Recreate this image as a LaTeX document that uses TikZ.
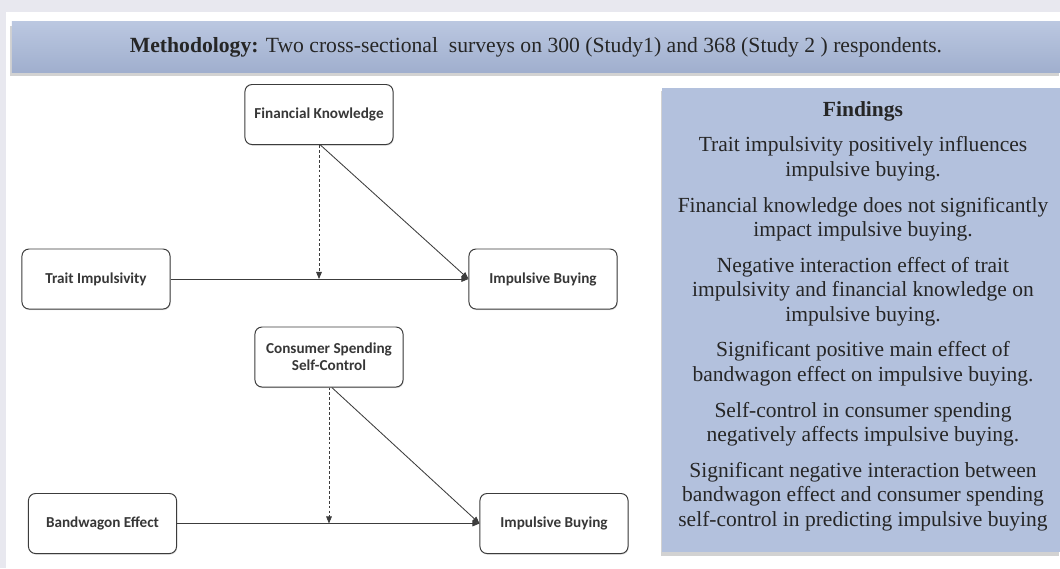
\documentclass[tikz,border=0pt]{standalone}
\usepackage{fontspec}
\setmainfont{Liberation Serif}
\newfontfamily\boxfont{Carlito}
\usepackage{tikz}
\usetikzlibrary{arrows.meta,shadows}
\definecolor{PageGray}{RGB}{232,232,239}
\definecolor{PanelBlue}{RGB}{179,193,221}
\definecolor{PanelBlueDark}{RGB}{160,175,206}
\definecolor{LineGray}{RGB}{60,60,60}
\definecolor{TextGray}{RGB}{55,55,55}
\tikzset{
  varbox/.style={draw=LineGray, line width=0.7pt, rounded corners=5pt, fill=white,
    minimum width=3.7cm, minimum height=1.5cm, align=center, text=TextGray,
    font=\boxfont\bfseries\fontsize{10.8}{12}\selectfont,
    drop shadow={shadow xshift=0.5pt, shadow yshift=-0.8pt, opacity=0.25}},
  panel/.style={fill=PanelBlue, draw=none,
    drop shadow={shadow xshift=-1pt, shadow yshift=-2.5pt, opacity=0.35}},
  banner/.style={panel, top color=PanelBlue!90!white, bottom color=PanelBlueDark},
  effect/.style={draw=LineGray, line width=0.6pt, -{Triangle[length=5pt,width=4pt]}},
  moderate/.style={effect, dash pattern=on 2pt off 1.5pt}
}
\begin{document}
\begin{tikzpicture}[x=0.025cm, y=-0.025cm]
  \useasboundingbox (0,0) rectangle (1060,568);
  \fill[PageGray] (0,0) rectangle (1060,568);
  \fill[white] (6,12) rectangle (1060,568);

  \node[banner, minimum width=26.2cm, minimum height=1.25cm,
    font=\fontsize{15.4}{18}\selectfont, text=black!85] (method) at (536,47)
    {\textbf{Methodology:} Two cross-sectional\ \ surveys on 300 (Study1) and 368 (Study 2 ) respondents.};

  \node[panel, minimum width=9.95cm, minimum height=11.6cm] (findbox) at (861,320) {};
  \node[align=center, text=black!85, font=\fontsize{15.3}{17.4}\selectfont] (findings) at (863,316)
    {\textbf{Findings}\\[8pt]
     Trait impulsivity\ positively\ influences\\ impulsive buying.\\[8pt]
     Financial knowledge does not significantly\\ impact impulsive buying.\\[8pt]
     Negative interaction effect of trait\\ impulsivity and financial knowledge on\\ impulsive buying.\\[8pt]
     Significant positive main effect of\\ bandwagon\ effect on impulsive buying.\\[8pt]
     Self-control in consumer\ spending\\ negatively affects impulsive buying.\\[8pt]
     Significant negative interaction between\\ bandwagon\ effect and consumer\ spending\\ self-control in predicting\ impulsive buying};

  \node[varbox] (fk) at (319,114.5) {Financial Knowledge};
  \node[varbox] (ti) at (96,279) {Trait Impulsivity};
  \node[varbox] (ib1) at (543,279) {Impulsive Buying};
  \coordinate (m1) at (fk.south |- ti.east);
  \draw[effect] (ti.east) -- (ib1.west);
  \draw[effect] ([xshift=1pt]fk.south) -- (ib1.west);
  \draw[moderate] (fk.south) -- (m1);

  \node[varbox] (cs) at (329,357) {Consumer Spending\\ Self-Control};
  \node[varbox] (bw) at (102.5,523.5) {Bandwagon Effect};
  \node[varbox] (ib2) at (554,523.5) {Impulsive Buying};
  \coordinate (m2) at (cs.south |- bw.east);
  \draw[effect] (bw.east) -- (ib2.west);
  \draw[effect] ([xshift=2pt]cs.south) -- (ib2.west);
  \draw[moderate] (cs.south) -- (m2);
\end{tikzpicture}
\end{document}
